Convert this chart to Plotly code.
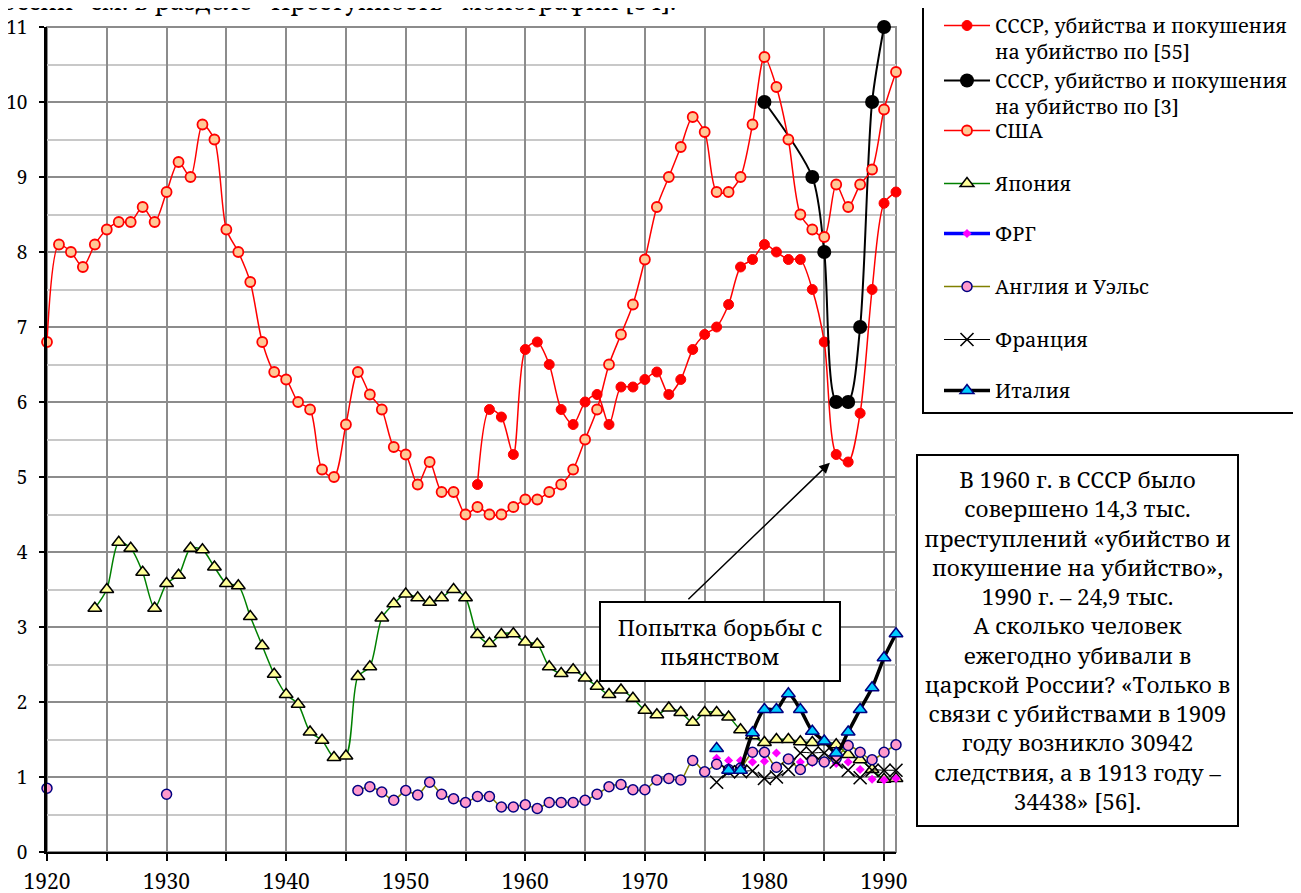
import plotly.graph_objects as go
import pandas as pd

FONT = "Noto Serif, DejaVu Serif, serif"

years_all = list(range(1920, 1992))

usa_years = list(range(1920, 1992))
usa_vals = [6.8, 8.1, 8.0, 7.8, 8.1, 8.3, 8.4, 8.4, 8.6, 8.4,
            8.8, 9.2, 9.0, 9.7, 9.5, 8.3, 8.0, 7.6, 6.8, 6.4,
            6.3, 6.0, 5.9, 5.1, 5.0, 5.7, 6.4, 6.1, 5.9, 5.4,
            5.3, 4.9, 5.2, 4.8, 4.8, 4.5, 4.6, 4.5, 4.5, 4.6,
            4.7, 4.7, 4.8, 4.9, 5.1, 5.5, 5.9, 6.5, 6.9, 7.3,
            7.9, 8.6, 9.0, 9.4, 9.8, 9.6, 8.8, 8.8, 9.0, 9.7,
            10.6, 10.2, 9.5, 8.5, 8.3, 8.2, 8.9, 8.6, 8.9, 9.1,
            9.9, 10.4]

ussr55_years = list(range(1956, 1992))
ussr55_vals = [4.9, 5.9, 5.8, 5.3, 6.7, 6.8, 6.5, 5.9, 5.7, 6.0,
               6.1, 5.7, 6.2, 6.2, 6.3, 6.4, 6.1, 6.3, 6.7, 6.9,
               7.0, 7.3, 7.8, 7.9, 8.1, 8.0, 7.9, 7.9, 7.5, 6.8,
               5.3, 5.2, 5.85, 7.5, 8.65, 8.8]

ussr3_years = [1980, 1984, 1985, 1986, 1987, 1988, 1989, 1990]
ussr3_vals = [10.0, 9.0, 8.0, 6.0, 6.0, 7.0, 10.0, 11.0]

japan_years = list(range(1924, 1992))
japan_vals = [3.25, 3.5, 4.13, 4.05, 3.73, 3.25, 3.58, 3.69, 4.05, 4.03,
              3.8, 3.58, 3.55, 3.14, 2.75, 2.37, 2.1, 1.97, 1.6, 1.49,
              1.26, 1.28, 2.34, 2.47, 3.12, 3.31, 3.44, 3.39, 3.33, 3.39,
              3.5, 3.39, 2.9, 2.78, 2.9, 2.91, 2.8, 2.77, 2.47, 2.38,
              2.43, 2.32, 2.21, 2.1, 2.16, 2.05, 1.89, 1.83, 1.92, 1.86,
              1.73, 1.86, 1.86, 1.8, 1.63, 1.55, 1.46, 1.5, 1.5, 1.47,
              1.46, 1.47, 1.43, 1.3, 1.23, 1.1, 0.97, 0.98]

frg_years = list(range(1976, 1992))
frg_vals = [1.25, 1.22, 1.22, 1.2, 1.21, 1.32, 1.24, 1.2, 1.19, 1.19,
            1.18, 1.2, 1.1, 0.97, 0.96, 0.98]

eng_years = [1920, 1930] + list(range(1946, 1992))
eng_vals = [0.85, 0.77,
            0.82, 0.87, 0.80, 0.69, 0.82, 0.76, 0.93, 0.77, 0.71, 0.66,
            0.74, 0.74, 0.60, 0.60, 0.63, 0.58, 0.66, 0.66, 0.66, 0.69,
            0.77, 0.87, 0.90, 0.83, 0.83, 0.96, 0.98, 0.96, 1.22, 1.07,
            1.17, 1.10, 1.12, 1.33, 1.33, 1.13, 1.24, 1.10, 1.22, 1.20,
            1.25, 1.42, 1.33, 1.23, 1.33, 1.43]

france_years = list(range(1976, 1992))
france_vals = [0.93, 1.07, 1.07, 1.08, 0.98, 1.0, 1.1, 1.32, 1.32, 1.32,
               1.2, 1.09, 0.99, 1.09, 1.09, 1.09]

italy_years = list(range(1976, 1992))
italy_vals = [1.38, 1.09, 1.09, 1.59, 1.9, 1.9, 2.11, 1.9, 1.61, 1.48,
              1.32, 1.6, 1.9, 2.19, 2.59, 2.91]
italy_line_start = 1978

x_tick_vals = list(range(1920, 1991, 5))
x_tick_text = [str(v) if v % 10 == 0 else "" for v in x_tick_vals]

names = ["СССР, убийства и покушения<br>на убийство по [55]",
         "СССР, убийство и покушения<br>на убийство по [3]",
         "США", "Япония", "ФРГ", "Англия и Уэльс", "Франция", "Италия"]

note_text = ("В 1960 г. в СССР было<br>совершено 14,3 тыс.<br>"
             "преступлений «убийство и<br>покушение на убийство»,<br>"
             "1990 г. – 24,9 тыс.<br>А сколько человек<br>ежегодно убивали в<br>"
             "царской России? «Только в<br>связи с убийствами в 1909<br>"
             "году возникло 30942<br>следствия, а в 1913 году –<br>34438» [56].")
arrow_text = "Попытка борьбы с<br>пьянством"
top_text = "оссии\" см. в разделе «Преступность» монографии [54]."

# ---- pixel geometry helpers (page has an 8px body margin) ----
OFFS = 8
W, H = 1301 - OFFS, 893 - OFFS
ML, MT = 47 - OFFS, 27 - OFFS
PW, PH = 849, 825
MR, MB = W - ML - PW, H - MT - PH


def px_x(p):
    return (p - OFFS - ML) / PW


def px_y(p):
    return (MT + PH - (p - OFFS)) / PH


fig = go.Figure()

SPL = dict(shape="spline", smoothing=0.8)

fig.add_trace(go.Scatter(
    x=ussr55_years, y=ussr55_vals, name=names[0], mode="lines+markers",
    line=dict(color="#FF0000", width=1.5, **SPL),
    marker=dict(symbol="circle", size=10, color="#FF0000",
                line=dict(color="#FF0000", width=1)),
    cliponaxis=False, legend="legend"))

fig.add_trace(go.Scatter(
    x=ussr3_years, y=ussr3_vals, name=names[1], mode="lines+markers",
    line=dict(color="#000000", width=2, **SPL),
    marker=dict(symbol="circle", size=14, color="#000000"),
    cliponaxis=False, legend="legend2"))

fig.add_trace(go.Scatter(
    x=usa_years, y=usa_vals, name=names[2], mode="lines+markers",
    line=dict(color="#FF0000", width=1.5, **SPL),
    marker=dict(symbol="circle", size=10, color="#FFC896",
                line=dict(color="#FF0000", width=1.8)),
    cliponaxis=False, legend="legend3"))

fig.add_trace(go.Scatter(
    x=japan_years, y=japan_vals, name=names[3], mode="lines+markers",
    line=dict(color="#008000", width=1.5, **SPL),
    marker=dict(symbol="triangle-up", size=12, color="#FFFF99",
                line=dict(color="#000000", width=1.5)),
    cliponaxis=False, legend="legend4"))

fig.add_trace(go.Scatter(
    x=frg_years, y=frg_vals, name=names[4], mode="markers",
    marker=dict(symbol="diamond", size=7, color="#FF00FF"),
    cliponaxis=False, showlegend=False))
fig.add_trace(go.Scatter(
    x=[None], y=[None], name=names[4], mode="lines+markers",
    line=dict(color="#0000FF", width=3.5),
    marker=dict(symbol="diamond", size=7, color="#FF00FF"),
    legend="legend5"))

eng_series = pd.Series(eng_vals, index=eng_years, dtype=float).reindex(years_all)
fig.add_trace(go.Scatter(
    x=years_all, y=eng_series.values, name=names[5], mode="lines+markers",
    line=dict(color="#808000", width=1.5, **SPL),
    marker=dict(symbol="circle", size=10, color="#FF99CC",
                line=dict(color="#000080", width=1.5)),
    cliponaxis=False, legend="legend6"))

fig.add_trace(go.Scatter(
    x=france_years, y=france_vals, name=names[6], mode="lines+markers",
    line=dict(color="#000000", width=1, **SPL),
    marker=dict(symbol="x-thin", size=13, color="#000000",
                line=dict(color="#000000", width=1.6)),
    cliponaxis=False, legend="legend7"))

it_early_x = [y for y in italy_years if y < italy_line_start]
it_early_v = [v for y, v in zip(italy_years, italy_vals) if y < italy_line_start]
it_main_x = [y for y in italy_years if y >= italy_line_start]
it_main_v = [v for y, v in zip(italy_years, italy_vals) if y >= italy_line_start]
fig.add_trace(go.Scatter(
    x=it_early_x, y=it_early_v, name=names[7], mode="markers",
    marker=dict(symbol="triangle-up", size=12, color="#00CCFF",
                line=dict(color="#000080", width=1.5)),
    cliponaxis=False, showlegend=False))
fig.add_trace(go.Scatter(
    x=it_main_x, y=it_main_v, name=names[7], mode="lines+markers",
    line=dict(color="#000000", width=3.5, **SPL),
    marker=dict(symbol="triangle-up", size=12, color="#00CCFF",
                line=dict(color="#000080", width=1.5)),
    cliponaxis=False, legend="legend8"))

# ---- legends (one per entry for exact spacing) ----
LEG_X = px_x(939)
OFF = 19
centers = [25, 80, 130, 183, 233, 286, 339, 390]
leg_keys = ["legend"] + [f"legend{i}" for i in range(2, 9)]
legends = {}
for key, c in zip(leg_keys, centers):
    legends[key] = dict(
        x=LEG_X, xanchor="left", y=px_y(c - OFF), yanchor="top",
        bgcolor="rgba(0,0,0,0)", borderwidth=0, itemwidth=46, valign="top",
        font=dict(family=FONT, size=20, color="#000000"),
        itemclick=False, itemdoubleclick=False)

shapes = [
    dict(type="rect", xref="paper", yref="paper", x0=0, x1=1, y0=0, y1=1,
         line=dict(color="#8C8C8C", width=2), layer="below"),
    dict(type="rect", xref="paper", yref="paper",
         x0=px_x(923), x1=px_x(1312), y0=px_y(413), y1=px_y(7),
         line=dict(color="#000000", width=2), fillcolor="#FFFFFF", layer="below"),
]

annotations = [
    dict(x=1985.47, y=5.19, xref="x", yref="y", text="", showarrow=True,
         ax=-143, ay=138, arrowhead=2, arrowsize=1.4, arrowwidth=1.5,
         arrowcolor="#000000", standoff=0),
    dict(x=px_x(720), y=px_y(641.5), xref="paper", yref="paper",
         xanchor="center", yanchor="middle",
         text=arrow_text, showarrow=False, align="center",
         width=236, height=75, bgcolor="#FFFFFF", bordercolor="#000000",
         borderwidth=2, borderpad=1,
         font=dict(family=FONT, size=22, color="#000000")),
    dict(x=px_x(1077.5), y=px_y(640.5), xref="paper", yref="paper",
         xanchor="center", yanchor="middle",
         text=note_text, showarrow=False, align="center",
         width=317, height=367, bgcolor="#FFFFFF", bordercolor="#000000",
         borderwidth=2, borderpad=1,
         font=dict(family=FONT, size=22.5, color="#000000")),
    dict(x=px_x(0), y=px_y(0), xref="paper", yref="paper", xanchor="left",
         yanchor="middle", text=top_text, showarrow=False,
         font=dict(family=FONT, size=24.5, color="#000000")),
]

fig.update_layout(
    width=W, height=H,
    margin=dict(l=ML, r=MR, t=MT, b=MB, pad=0, autoexpand=False),
    paper_bgcolor="#FFFFFF", plot_bgcolor="#FFFFFF",
    font=dict(family=FONT, color="#000000"),
    shapes=shapes, annotations=annotations,
    **legends,
)

fig.update_xaxes(
    range=[1920, 1991], tickmode="array", tickvals=x_tick_vals,
    ticktext=x_tick_text, ticks="outside", ticklen=7, tickwidth=2,
    tickcolor="#000000", showline=True, linecolor="#000000", linewidth=2,
    showgrid=True, gridcolor="#8C8C8C", gridwidth=2, zeroline=False,
    tickfont=dict(family=FONT, size=21, color="#000000"),
    ticklabelstandoff=3, automargin=False)

fig.update_yaxes(
    range=[0, 11], dtick=1, tick0=0, ticks="outside", ticklen=5,
    tickwidth=2, tickcolor="#000000", showline=True, linecolor="#000000",
    linewidth=2.5, showgrid=True, gridcolor="#8C8C8C", gridwidth=2,
    zeroline=False,
    minor=dict(dtick=0.5, showgrid=True, gridcolor="#C8C8C8", gridwidth=2,
               ticks=""),
    tickfont=dict(family=FONT, size=19, color="#000000"),
    ticklabelstandoff=8, automargin=False)

fig.write_html("out.html")
